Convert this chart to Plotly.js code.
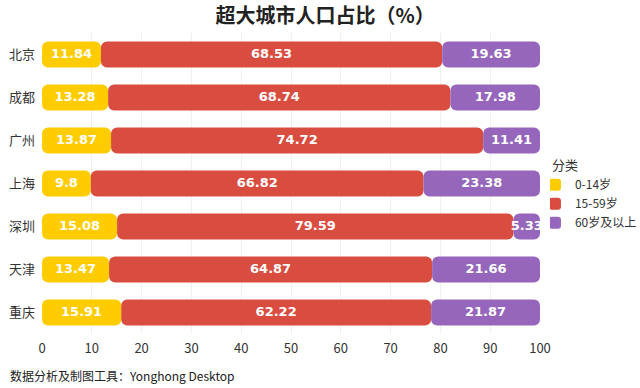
<!DOCTYPE html>
<html><head><meta charset="utf-8">
<script src="https://cdn.plot.ly/plotly-3.0.1.min.js"></script>
<style>html,body{margin:0;padding:0;background:#fff;}#chart{width:640px;height:388px;}</style>
</head><body><div id="chart"></div>
<script>
const cities = ['北京','成都','广州','上海','深圳','天津','重庆'];
const age0_14 = [11.84, 13.28, 13.87, 9.8, 15.08, 13.47, 15.91];
const age15_59 = [68.53, 68.74, 74.72, 66.82, 79.59, 64.87, 62.22];
const age60 = [19.63, 17.98, 11.41, 23.38, 5.33, 21.66, 21.87];
const seriesNames = ['0-14岁','15-59岁','60岁及以上'];
const seriesColors = ['#FFCC00','#D94C40','#9566BB'];
const xTicks = [0,10,20,30,40,50,60,70,80,90,100];

const series = [age0_14, age15_59, age60];
const traces = [];
const textTraces = [];
const starts = cities.map(()=>0);
series.forEach((vals, si) => {
  const bases = starts.slice();
  traces.push({type:'bar', orientation:'h', y:cities, base:bases, x:vals, width:0.6,
    marker:{color:seriesColors[si], cornerradius:6, line:{width:0}},
    name:seriesNames[si], hoverinfo:'skip'});
  textTraces.push({type:'scatter', mode:'text', y:cities, x:vals.map((v,i)=>bases[i]+v/2),
    text:vals.map(v=>String(v)),
    textfont:{color:'#ffffff', size:13, family:'DejaVu Sans', weight:'bold'},
    textposition:'middle center', showlegend:false, hoverinfo:'skip', cliponaxis:false});
  vals.forEach((v,i)=>{starts[i]+=v;});
});

const layout = {
  width:640, height:388,
  margin:{l:42, r:100, t:33, b:54, autoexpand:false},
  paper_bgcolor:'#fff', plot_bgcolor:'#fff',
  barmode:'overlay',
  font:{family:'"Noto Sans CJK SC", "Noto Sans", sans-serif', color:'#333'},
  title:{text:'<b>超大城市人口占比（%）</b>', x:0.508, xanchor:'center', y:0.959, yanchor:'middle',
    font:{size:20, color:'#222', family:'"Noto Sans CJK SC", sans-serif'}},
  xaxis:{range:[0,100], tickvals:xTicks, ticktext:xTicks.map(String), showgrid:true, gridcolor:'#f0f0f0',
    gridwidth:1, zeroline:false, showline:false, ticks:'', ticklabelstandoff:5,
    tickfont:{size:13, color:'#333'}, fixedrange:true},
  yaxis:{autorange:'reversed', showgrid:false, zeroline:false, showline:false, ticks:'',
    ticklabelstandoff:6, tickfont:{size:13, color:'#333'}},
  legend:{x:1.02, xanchor:'left', y:0.6, yanchor:'top', indentation:-15,
    title:{text:'分类', font:{size:13, color:'#333'}},
    font:{size:12, color:'#333'}, itemwidth:30, tracegroupgap:0, bgcolor:'rgba(0,0,0,0)'},
  annotations:[{text:'数据分析及制图工具：Yonghong Desktop', xref:'paper', yref:'paper', x:-0.068, y:-0.137,
    xanchor:'left', yanchor:'middle', showarrow:false, font:{size:12, color:'#222'}}],
  showlegend:true
};
Plotly.newPlot('chart', traces.concat(textTraces), layout, {displayModeBar:false, staticPlot:true});
</script></body></html>
